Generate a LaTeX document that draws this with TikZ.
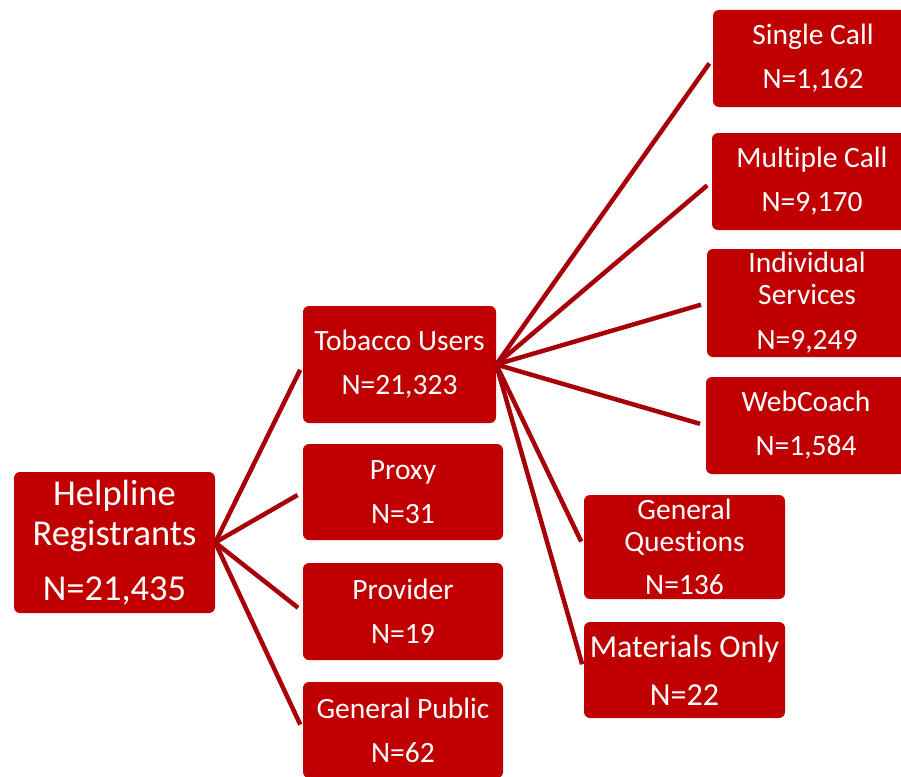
\documentclass[tikz,border=0pt]{standalone}
\usepackage{fontspec}
\setmainfont{Carlito}[Ligatures=NoCommon]
\usepackage{tikz}
\definecolor{boxred}{RGB}{192,0,0}
\definecolor{linered}{RGB}{168,0,8}

\begin{document}
\begin{tikzpicture}[x=1pt,y=-1pt]
			\tikzstyle{box}=[fill=boxred, text=white, rounded corners=6pt, align=center, inner sep=0pt, font=\fontsize{29.5}{32}\selectfont]
			\tikzstyle{bigbox}=[box, font=\fontsize{32}{40}\selectfont]
			\tikzstyle{rootbox}=[box, font=\fontsize{36.5}{40}\selectfont]
			\tikzstyle{link}=[linered, line width=4.5pt, shorten >=6pt]

			\useasboundingbox (0,0) rectangle (901,776);
			\clip (0,0) rectangle (901,776);

			\node (reg) [rootbox, minimum width=201pt, minimum height=141pt] at (114.5,542.5) {Helpline\\Registrants\\[15pt]N=21,435};

			\node (tob) [box, minimum width=193pt, minimum height=117pt] at (399.5,364.5) {Tobacco Users\\[12pt]N=21,323};
			\node (prx) [box, minimum width=200pt, minimum height=96pt] at (403,492) {Proxy\\[12pt]N=31};
			\node (prv) [box, minimum width=200pt, minimum height=97pt] at (403,611.5) {Provider\\[12pt]N=19};
			\node (pub) [box, minimum width=200pt, minimum height=96pt] at (403,730) {General Public\\[12pt]N=62};

			\node (sgl) [box, minimum width=200pt, minimum height=97pt] at (813,58.5) {Single Call\\[12pt]N=1,162};
			\node (mul) [box, minimum width=200pt, minimum height=97pt] at (812,181.5) {Multiple Call\\[12pt]N=9,170};
			\node (ind) [box, minimum width=200pt, minimum height=108pt] at (807,303) {Individual\\Services\\[13pt]N=9,249};
			\node (web) [box, minimum width=200pt, minimum height=97pt] at (806,425.5) {WebCoach\\[12pt]N=1,584};
			\node (gen) [box, minimum width=201pt, minimum height=104pt] at (684.5,547) {General\\Questions\\[11pt]N=136};
			\node (mat) [bigbox, minimum width=201pt, minimum height=96pt] at (684.5,670) {Materials Only\\[8pt]N=22};

			\draw [link] (reg.east) -- (tob.west);
			\draw [link] (reg.east) -- (prx.west);
			\draw [link] (reg.east) -- (prv.west);
			\draw [link] (reg.east) -- (pub.west);

			\draw [link] (tob.east) -- (sgl.west);
			\draw [link] (tob.east) -- (mul.west);
			\draw [link] (tob.east) -- (ind.west);
			\draw [link] (tob.east) -- (web.west);
			\draw [link] (tob.east) -- (gen.west);
			\draw [link] (tob.east) -- (mat.west);
		\end{tikzpicture}
\end{document}
